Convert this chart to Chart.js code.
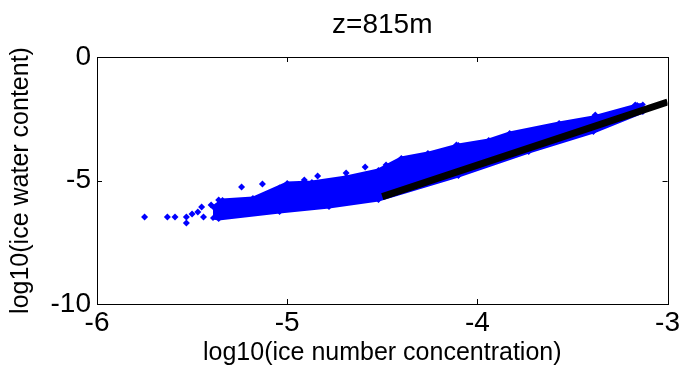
<!DOCTYPE html>
<html>
<head>
<meta charset="utf-8">
<script src="https://cdn.jsdelivr.net/npm/chart.js@4/dist/chart.umd.min.js"></script>
<style>
  html, body { margin: 0; padding: 0; background: #fff; }
  #wrap { width: 682px; height: 371px; }
</style>
</head>
<body>
<div id="wrap"><canvas id="grafico"></canvas></div>
<script>
// DADOS
var tituloGrafico = 'z=815m';
var xTicks = [-6, -5, -4, -3];
var yTicks = [-10, -5, 0];

// faixa azul densa (borda de cima e de baixo)
var faixaSupX = [-5.39, -5.34, -5.18, -5.00, -4.87, -4.69, -4.52, -4.40, -4.26, -4.10, -3.94, -3.83, -3.57, -3.39, -3.16, -3.13];
var faixaSupY = [-6.07, -5.79, -5.71, -5.10, -5.06, -4.86, -4.57, -4.09, -3.89, -3.56, -3.36, -3.08, -2.67, -2.43, -1.94, -1.92];
var faixaInfX = [-5.39, -5.36, -5.04, -4.78, -4.52, -4.10, -3.73, -3.39, -3.13];
var faixaInfY = [-6.52, -6.56, -6.28, -6.07, -5.79, -4.82, -3.85, -3.04, -2.23];

// pontos azuis soltos
var soltosX = [-5.75, -5.63, -5.59, -5.53, -5.53, -5.50, -5.47, -5.45, -5.44, -5.40, -5.36, -5.24, -5.13, -5.04, -4.91, -4.84, -4.69, -4.59, -4.48, -4.46, -4.36, -4.30, -4.11, -3.38, -3.17];
var soltosY = [-6.48, -6.48, -6.48, -6.48, -6.72, -6.36, -6.28, -6.07, -6.48, -5.99, -5.79, -5.26, -5.14, -5.30, -4.98, -4.82, -4.70, -4.45, -4.37, -4.45, -4.13, -4.21, -3.56, -2.35, -1.94];

// pontos pretos (reta)
var retaX = [-4.5, -4.0, -3.5, -3.0];
var retaY = [-5.65, -4.38, -3.10, -1.82];

function pares(xs, ys) {
    return xs.map(function(x, i) { return { x: x, y: ys[i] }; });
}

var AZUL = '#0000ff';
var FONTE = 'Liberation Sans, Arial, sans-serif';

// caixa + ticks para dentro, estilo matlab
var caixaPlugin = {
    id: 'caixa',
    afterDraw: function(chart) {
        var ctx = chart.ctx;
        var a = chart.chartArea;
        var sx = chart.scales.x, sy = chart.scales.y;
        ctx.save();
        ctx.strokeStyle = '#000';
        ctx.lineWidth = 1;
        ctx.strokeRect(Math.round(a.left) + 0.5, Math.round(a.top) + 0.5, Math.round(a.right - a.left), Math.round(a.bottom - a.top));
        var t = 5;
        xTicks.forEach(function(v) {
            var px = Math.round(sx.getPixelForValue(v)) + 0.5;
            ctx.beginPath();
            ctx.moveTo(px, a.bottom); ctx.lineTo(px, a.bottom - t);
            ctx.moveTo(px, a.top); ctx.lineTo(px, a.top + t);
            ctx.stroke();
        });
        yTicks.forEach(function(v) {
            var py = Math.round(sy.getPixelForValue(v)) + 0.5;
            ctx.beginPath();
            ctx.moveTo(a.left, py); ctx.lineTo(a.left + t, py);
            ctx.moveTo(a.right, py); ctx.lineTo(a.right - t, py);
            ctx.stroke();
        });
        // titulo centrado na area do grafico
        ctx.fillStyle = '#000';
        ctx.font = '28px ' + FONTE;
        ctx.textAlign = 'center';
        ctx.textBaseline = 'middle';
        ctx.fillText(tituloGrafico, (a.left + a.right) / 2, 25);
        ctx.restore();
    }
};

var ctxGrafico = document.getElementById('grafico').getContext('2d');

var grafico = new Chart(ctxGrafico, {
    type: 'scatter',
    data: {
        datasets: [{
            label: 'reta',
            data: pares(retaX, retaY),
            showLine: true,
            borderColor: '#000',
            borderWidth: 7,
            borderCapStyle: 'butt',
            pointRadius: 0,
            fill: false
        }, {
            label: 'soltos',
            data: pares(soltosX, soltosY),
            backgroundColor: AZUL,
            borderColor: AZUL,
            pointStyle: 'rectRot',
            pointRadius: 3.5,
            borderWidth: 0
        }, {
            label: 'faixa sup',
            data: pares(faixaSupX, faixaSupY),
            showLine: true,
            borderColor: AZUL,
            borderWidth: 3,
            backgroundColor: AZUL,
            pointStyle: 'rectRot',
            pointRadius: 3,
            pointBorderWidth: 0,
            fill: '+1'
        }, {
            label: 'faixa inf',
            data: pares(faixaInfX, faixaInfY),
            showLine: true,
            borderColor: AZUL,
            borderWidth: 3,
            backgroundColor: AZUL,
            pointStyle: 'rectRot',
            pointRadius: 3,
            pointBorderWidth: 0,
            fill: false
        }]
    },
    options: {
        responsive: true,
        maintainAspectRatio: false,
        animation: false,
        layout: {
            padding: { top: 57, right: 12, left: 0, bottom: 0 }
        },
        plugins: {
            legend: { display: false },
            tooltip: { enabled: false },
            title: { display: false }
        },
        scales: {
            x: {
                type: 'linear',
                min: -6,
                max: -3,
                afterBuildTicks: function(s) { s.ticks = xTicks.map(function(v) { return { value: v }; }); },
                afterFit: function(s) { s.height = 67; },
                grid: { display: false, drawTicks: false },
                border: { display: false },
                ticks: {
                    color: '#000',
                    font: { family: FONTE, size: 28 },
                    padding: 2
                },
                title: {
                    display: true,
                    text: 'log10(ice number concentration)',
                    color: '#000',
                    font: { family: FONTE, size: 25 },
                    padding: { top: 0, bottom: 3 }
                }
            },
            y: {
                type: 'linear',
                min: -10,
                max: 0,
                afterBuildTicks: function(s) { s.ticks = yTicks.map(function(v) { return { value: v }; }); },
                afterFit: function(s) { s.width = 97; },
                grid: { display: false, drawTicks: false },
                border: { display: false },
                ticks: {
                    color: '#000',
                    font: { family: FONTE, size: 28 },
                    padding: 6
                },
                title: {
                    display: true,
                    text: 'log10(ice water content)',
                    color: '#000',
                    font: { family: FONTE, size: 25 },
                    padding: { top: 6, bottom: 0 }
                }
            }
        }
    },
    plugins: [caixaPlugin]
});
</script>
</body>
</html>
